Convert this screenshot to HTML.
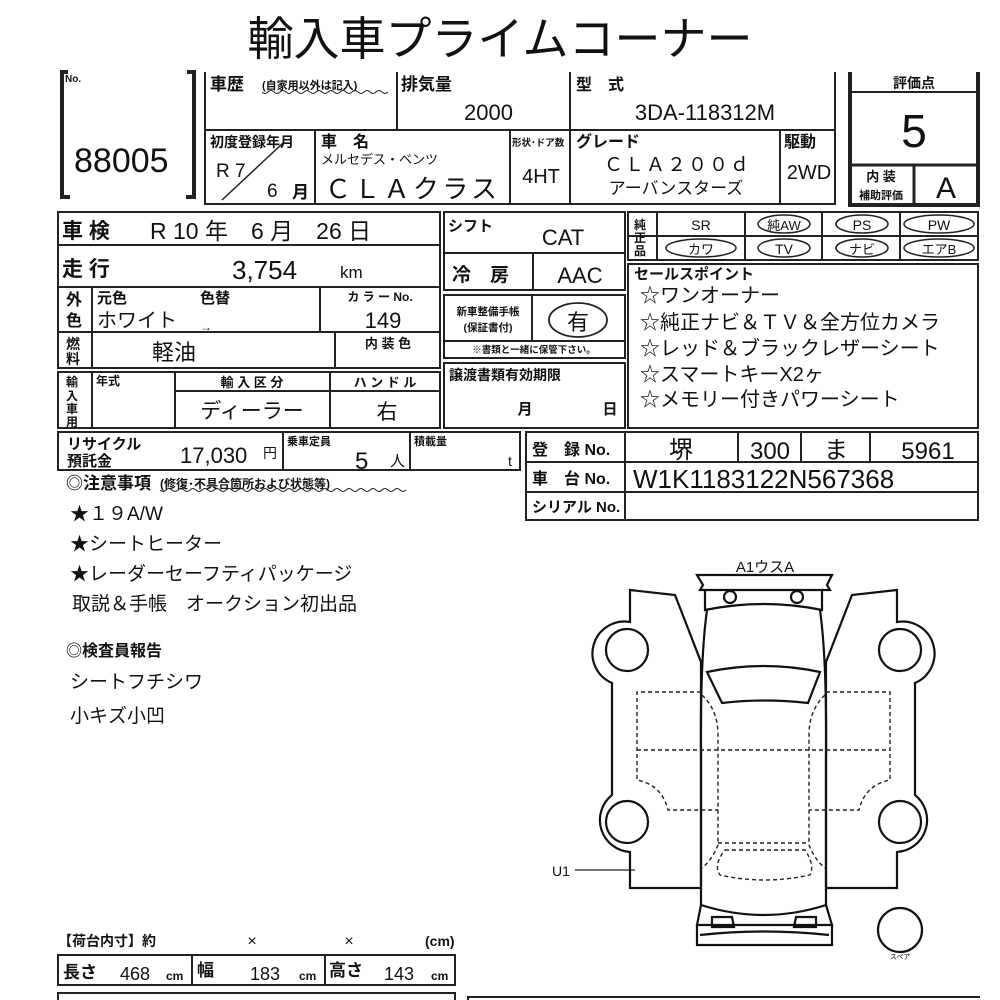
<!DOCTYPE html>
<html><head><meta charset="utf-8"><style>
html,body{margin:0;padding:0;background:#fff;}
svg{display:block;}
text{font-family:"Liberation Sans","Noto Sans CJK JP",sans-serif;fill:#111;}
.b{font-weight:bold;}
</style></head><body>
<svg width="1000" height="1000" viewBox="0 0 1000 1000" xmlns="http://www.w3.org/2000/svg">
<g stroke="#222" stroke-width="2" fill="none">
<path d="M68,72 L62,72 L62,197 L70,197" stroke-width="4"/>
<path d="M187,72 L194,72 L194,197 L186,197" stroke-width="4"/>
<path d="M205,72 L205,204 L835,204 L835,72"/>
<line x1="205" y1="130" x2="835" y2="130"/>
<line x1="397" y1="72" x2="397" y2="130"/>
<line x1="570" y1="72" x2="570" y2="204"/>
<line x1="315" y1="130" x2="315" y2="204"/>
<line x1="510" y1="130" x2="510" y2="204"/>
<line x1="780" y1="130" x2="780" y2="204"/>
<line x1="222" y1="200" x2="283" y2="143" stroke-width="1.5"/>
<path d="M850,72 L850,205 L978,205 L978,72" stroke-width="4"/>
<line x1="850" y1="92" x2="978" y2="92"/>
<line x1="850" y1="165" x2="978" y2="165" stroke-width="3"/>
<line x1="914" y1="165" x2="914" y2="205" stroke-width="3"/>
<rect x="58" y="212" width="382" height="156"/>
<line x1="58" y1="245" x2="440" y2="245"/>
<line x1="58" y1="287" x2="440" y2="287"/>
<line x1="58" y1="332" x2="440" y2="332"/>
<line x1="92" y1="287" x2="92" y2="368"/>
<line x1="320" y1="287" x2="320" y2="332"/>
<line x1="335" y1="332" x2="335" y2="368"/>
<rect x="58" y="372" width="382" height="56"/>
<line x1="92" y1="372" x2="92" y2="428"/>
<line x1="175" y1="372" x2="175" y2="428"/>
<line x1="330" y1="372" x2="330" y2="428"/>
<line x1="175" y1="391" x2="440" y2="391"/>
<rect x="444" y="212" width="181" height="78"/>
<line x1="444" y1="253" x2="625" y2="253"/>
<line x1="533" y1="253" x2="533" y2="290"/>
<rect x="444" y="295" width="181" height="63"/>
<line x1="532" y1="295" x2="532" y2="341"/>
<line x1="444" y1="341" x2="625" y2="341"/>
<rect x="444" y="363" width="181" height="65"/>
<ellipse cx="578" cy="320" rx="29" ry="17" stroke-width="1.8"/>
<rect x="628" y="212" width="350" height="48"/>
<line x1="628" y1="236" x2="978" y2="236"/>
<line x1="657" y1="212" x2="657" y2="260"/>
<line x1="745" y1="212" x2="745" y2="260"/>
<line x1="822" y1="212" x2="822" y2="260"/>
<line x1="900" y1="212" x2="900" y2="260"/>
<ellipse cx="784" cy="224" rx="26" ry="9" stroke-width="1.5"/>
<ellipse cx="862" cy="224" rx="26" ry="9" stroke-width="1.5"/>
<ellipse cx="939" cy="224" rx="35" ry="9" stroke-width="1.5"/>
<ellipse cx="701" cy="248" rx="35" ry="9" stroke-width="1.5"/>
<ellipse cx="784" cy="248" rx="26" ry="9" stroke-width="1.5"/>
<ellipse cx="862" cy="248" rx="26" ry="9" stroke-width="1.5"/>
<ellipse cx="939" cy="248" rx="35" ry="9" stroke-width="1.5"/>
<rect x="628" y="264" width="350" height="164"/>
<rect x="58" y="432" width="462" height="38"/>
<line x1="283" y1="432" x2="283" y2="470"/>
<line x1="410" y1="432" x2="410" y2="470"/>
<rect x="526" y="432" width="452" height="88"/>
<line x1="526" y1="462" x2="978" y2="462"/>
<line x1="526" y1="492" x2="978" y2="492"/>
<line x1="625" y1="432" x2="625" y2="520"/>
<line x1="738" y1="432" x2="738" y2="462"/>
<line x1="801" y1="432" x2="801" y2="462"/>
<line x1="870" y1="432" x2="870" y2="462"/>
<rect x="58" y="955" width="397" height="30"/>
<line x1="192" y1="955" x2="192" y2="985"/>
<line x1="325" y1="955" x2="325" y2="985"/>
<path d="M58,1000 L58,993 L455,993 L455,1000"/>
<path d="M468,1000 L468,997 L980,997"/>
</g>
<path d="M262,92 q3,3 6,0 t6,0 t6,0 t6,0 t6,0 t6,0 t6,0 t6,0 t6,0 t6,0 t6,0 t6,0 t6,0 t6,0 t6,0 t6,0 t6,0 t6,0 t6,0 t6,0 t6,0" stroke="#222" fill="none" stroke-width="1"/>
<path d="M160,490 q3,3 6,0 t6,0 t6,0 t6,0 t6,0 t6,0 t6,0 t6,0 t6,0 t6,0 t6,0 t6,0 t6,0 t6,0 t6,0 t6,0 t6,0 t6,0 t6,0 t6,0 t6,0 t6,0 t6,0 t6,0 t6,0 t6,0 t6,0 t6,0 t6,0 t6,0 t6,0 t6,0 t6,0 t6,0 t6,0 t6,0 t6,0 t6,0 t6,0 t6,0 t6,0" stroke="#222" fill="none" stroke-width="1"/>

<text x="500" y="55" font-size="46" text-anchor="middle">輸入車プライムコーナー</text>
<text x="65" y="82" font-size="10" class="b">No.</text>
<text x="74" y="172" font-size="34">88005</text>
<text x="210" y="90" font-size="17" class="b">車歴</text>
<text x="262" y="89" font-size="11" class="b">(自家用以外は記入)</text>
<text x="401" y="90" font-size="17" class="b">排気量</text>
<text x="513" y="120" font-size="22" text-anchor="end">2000</text>
<text x="576" y="90" font-size="16" class="b">型　式</text>
<text x="705" y="120" font-size="22" text-anchor="middle">3DA-118312M</text>
<text x="210" y="147" font-size="14" class="b">初度登録年月</text>
<text x="216" y="177" font-size="19">R 7</text>
<text x="267" y="197" font-size="19">6</text>
<text x="292" y="198" font-size="17" class="b">月</text>
<text x="321" y="147" font-size="16" class="b">車　名</text>
<text x="321" y="164" font-size="13">メルセデス・ベンツ</text>
<text x="325" y="198" font-size="26" textLength="172" lengthAdjust="spacing">ＣＬＡクラス</text>
<text x="512" y="146" font-size="9.5" class="b">形状･ドア数</text>
<text x="541" y="183" font-size="20" text-anchor="middle">4HT</text>
<text x="576" y="147" font-size="16" class="b">グレード</text>
<text x="604" y="171" font-size="19" textLength="145" lengthAdjust="spacing">ＣＬＡ２００ｄ</text>
<text x="676" y="194" font-size="17" text-anchor="middle">アーバンスターズ</text>
<text x="784" y="147" font-size="16" class="b">駆動</text>
<text x="809" y="179" font-size="20" text-anchor="middle">2WD</text>
<text x="914" y="88" font-size="14" class="b" text-anchor="middle">評価点</text>
<text x="914" y="147" font-size="46" text-anchor="middle">5</text>
<text x="881" y="181" font-size="13" class="b" text-anchor="middle">内 装</text>
<text x="881" y="199" font-size="11" class="b" text-anchor="middle">補助評価</text>
<text x="946" y="198" font-size="30" text-anchor="middle">A</text>

<text x="62" y="238" font-size="21" class="b">車 検</text>
<text x="150" y="239" font-size="23">R 10 年　6 月　26 日</text>
<text x="62" y="276" font-size="21" class="b">走 行</text>
<text x="232" y="279" font-size="26">3,754</text>
<text x="340" y="278" font-size="17">km</text>
<text x="66" y="305" font-size="16" class="b">外</text>
<text x="66" y="326" font-size="16" class="b">色</text>
<text x="97" y="303" font-size="15" class="b">元色</text>
<text x="200" y="303" font-size="15" class="b">色替</text>
<text x="97" y="327" font-size="20">ホワイト</text>
<text x="200" y="331" font-size="12">→</text>
<text x="380" y="301" font-size="12" class="b" text-anchor="middle">カ ラ ー No.</text>
<text x="383" y="328" font-size="22" text-anchor="middle">149</text>
<text x="66" y="349" font-size="14" class="b">燃</text>
<text x="66" y="364" font-size="14" class="b">料</text>
<text x="152" y="360" font-size="22">軽油</text>
<text x="388" y="348" font-size="13" class="b" text-anchor="middle">内 装 色</text>
<text x="66" y="386" font-size="12" class="b">輸</text>
<text x="66" y="400" font-size="12" class="b">入</text>
<text x="66" y="413" font-size="12" class="b">車</text>
<text x="66" y="426" font-size="12" class="b">用</text>
<text x="96" y="385" font-size="12" class="b">年式</text>
<text x="252" y="387" font-size="13" class="b" text-anchor="middle">輸 入 区 分</text>
<text x="385" y="387" font-size="13" class="b" text-anchor="middle">ハ ン ド ル</text>
<text x="252" y="418" font-size="21" text-anchor="middle">ディーラー</text>
<text x="387" y="419" font-size="21" text-anchor="middle">右</text>

<text x="448" y="231" font-size="15" class="b">シフト</text>
<text x="563" y="245" font-size="22" text-anchor="middle">CAT</text>
<text x="452" y="281" font-size="19" class="b">冷　房</text>
<text x="580" y="283" font-size="22" text-anchor="middle">AAC</text>
<text x="488" y="315" font-size="10.5" class="b" text-anchor="middle">新車整備手帳</text>
<text x="488" y="331" font-size="10.5" class="b" text-anchor="middle">(保証書付)</text>
<text x="578" y="330" font-size="22" text-anchor="middle">有</text>
<text x="534" y="353" font-size="9.5" class="b" text-anchor="middle">※書類と一緒に保管下さい。</text>
<text x="449" y="380" font-size="14" class="b">譲渡書類有効期限</text>
<text x="525" y="414" font-size="15" class="b" text-anchor="middle">月</text>
<text x="610" y="414" font-size="15" class="b" text-anchor="middle">日</text>

<text x="634" y="229" font-size="12" class="b">純</text>
<text x="634" y="242" font-size="12" class="b">正</text>
<text x="634" y="255" font-size="12" class="b">品</text>
<text x="701" y="230" font-size="14" text-anchor="middle">SR</text>
<text x="784" y="230" font-size="13" text-anchor="middle">純AW</text>
<text x="862" y="230" font-size="14" text-anchor="middle">PS</text>
<text x="939" y="230" font-size="14" text-anchor="middle">PW</text>
<text x="701" y="254" font-size="13" text-anchor="middle">カワ</text>
<text x="784" y="254" font-size="14" text-anchor="middle">TV</text>
<text x="862" y="254" font-size="13" text-anchor="middle">ナビ</text>
<text x="939" y="254" font-size="13" text-anchor="middle">エアB</text>
<text x="634" y="279" font-size="15" class="b">セールスポイント</text>
<g font-size="20">
<text x="640" y="302">☆ワンオーナー</text>
<text x="640" y="329">☆純正ナビ＆ＴＶ＆全方位カメラ</text>
<text x="640" y="355">☆レッド＆ブラックレザーシート</text>
<text x="640" y="381">☆スマートキーX2ヶ</text>
<text x="640" y="406">☆メモリー付きパワーシート</text>
</g>

<text x="67" y="449" font-size="15" class="b">リサイクル</text>
<text x="67" y="466" font-size="15" class="b">預託金</text>
<text x="180" y="463" font-size="22">17,030</text>
<text x="263" y="458" font-size="14">円</text>
<text x="287" y="445" font-size="11" class="b">乗車定員</text>
<text x="355" y="469" font-size="24">5</text>
<text x="390" y="466" font-size="15">人</text>
<text x="414" y="445" font-size="11" class="b">積載量</text>
<text x="508" y="466" font-size="14">t</text>
<text x="532" y="455" font-size="16" class="b">登　録 No.</text>
<text x="532" y="484" font-size="16" class="b">車　台 No.</text>
<text x="532" y="512" font-size="15" class="b">シリアル No.</text>
<text x="681" y="458" font-size="24" text-anchor="middle">堺</text>
<text x="770" y="459" font-size="24" text-anchor="middle">300</text>
<text x="836" y="458" font-size="24" text-anchor="middle">ま</text>
<text x="928" y="459" font-size="24" text-anchor="middle">5961</text>
<text x="633" y="488" font-size="26">W1K1183122N567368</text>

<text x="66" y="489" font-size="17" class="b">◎注意事項</text>
<text x="160" y="488" font-size="12" class="b">(修復･不具合箇所および状態等)</text>
<g font-size="19">
<text x="70" y="520">★１９A/W</text>
<text x="70" y="550">★シートヒーター</text>
<text x="70" y="580">★レーダーセーフティパッケージ</text>
<text x="72" y="610">取説＆手帳　オークション初出品</text>
<text x="70" y="688">シートフチシワ</text>
<text x="70" y="722">小キズ小凹</text>
</g>
<text x="66" y="656" font-size="16" class="b">◎検査員報告</text>

<text x="58" y="946" font-size="14" class="b">【荷台内寸】約</text>
<text x="252" y="946" font-size="16" text-anchor="middle">×</text>
<text x="349" y="946" font-size="16" text-anchor="middle">×</text>
<text x="425" y="946" font-size="14" class="b">(cm)</text>
<text x="63" y="978" font-size="17" class="b">長さ</text>
<text x="120" y="980" font-size="18">468</text>
<text x="166" y="980" font-size="12" class="b">cm</text>
<text x="197" y="976" font-size="17" class="b">幅</text>
<text x="250" y="980" font-size="18">183</text>
<text x="299" y="980" font-size="12" class="b">cm</text>
<text x="329" y="976" font-size="17" class="b">高さ</text>
<text x="384" y="980" font-size="18">143</text>
<text x="431" y="980" font-size="12" class="b">cm</text>

<text x="765" y="572" font-size="15" text-anchor="middle">A1ウスA</text>
<text x="552" y="876" font-size="14">U1</text>
<line x1="575" y1="870" x2="635" y2="870" stroke="#222" stroke-width="1.2"/>
<text x="900" y="959" font-size="7" text-anchor="middle">スペア</text>
<g stroke="#111" stroke-width="2.2" fill="none">
<path d="M697,575 L832,575 L827,585 L830,590 L700,590 L703,585 Z"/>
<path d="M705,590 L705,610 Q764,598 822,610 L822,590"/>
<circle cx="730" cy="597" r="6"/><circle cx="797" cy="597" r="6"/>
<path d="M707,610 Q700,660 701,760 L701,905 Q764,925 826,905 L826,760 Q827,660 820,610"/>
<path d="M707,672 Q764,660 820,672 L808,703 Q764,698 722,703 Z"/>
<path d="M701,905 L697,925 L832,925 L826,905"/>
<path d="M697,925 L697,945 L832,945 L832,925"/>
<path d="M700,935 Q764,928 829,935"/>
<path d="M712,917 L732,917 L734,927 L712,927 Z"/>
<path d="M816,917 L796,917 L794,927 L816,927 Z"/>
<path id="ld" d="M630,590 L675,595 L701,662 L701,888 L630,888 L630,852 A32,32 0 0 1 612,795 L612,683 A32,32 0 0 1 630,622 Z"/>
<use href="#ld" transform="translate(1527,0) scale(-1,1)"/>
<circle cx="627" cy="650" r="21"/><circle cx="627" cy="822" r="21"/>
<circle cx="900" cy="650" r="21"/><circle cx="900" cy="822" r="21"/>
<circle cx="900" cy="930" r="22"/>
</g>
<g stroke="#222" stroke-width="1.4" fill="none" stroke-dasharray="4,3">
<path d="M637,750 L890,750"/>
<path d="M701,692 L637,692 L637,780 Q662,785 668,810 L718,810"/>
<path d="M826,692 L890,692 L890,780 Q865,785 859,810 L809,810"/>
<path d="M702,695 Q718,710 718,735 L718,845 Q712,860 702,868"/>
<path d="M825,695 Q809,710 809,735 L809,845 Q815,860 825,868"/>
<path d="M718,843 L809,843"/>
<path d="M725,850 L805,850 Q815,865 810,875 Q764,885 720,875 Q713,865 725,850 Z"/>
</g>
</svg>
</body></html>
